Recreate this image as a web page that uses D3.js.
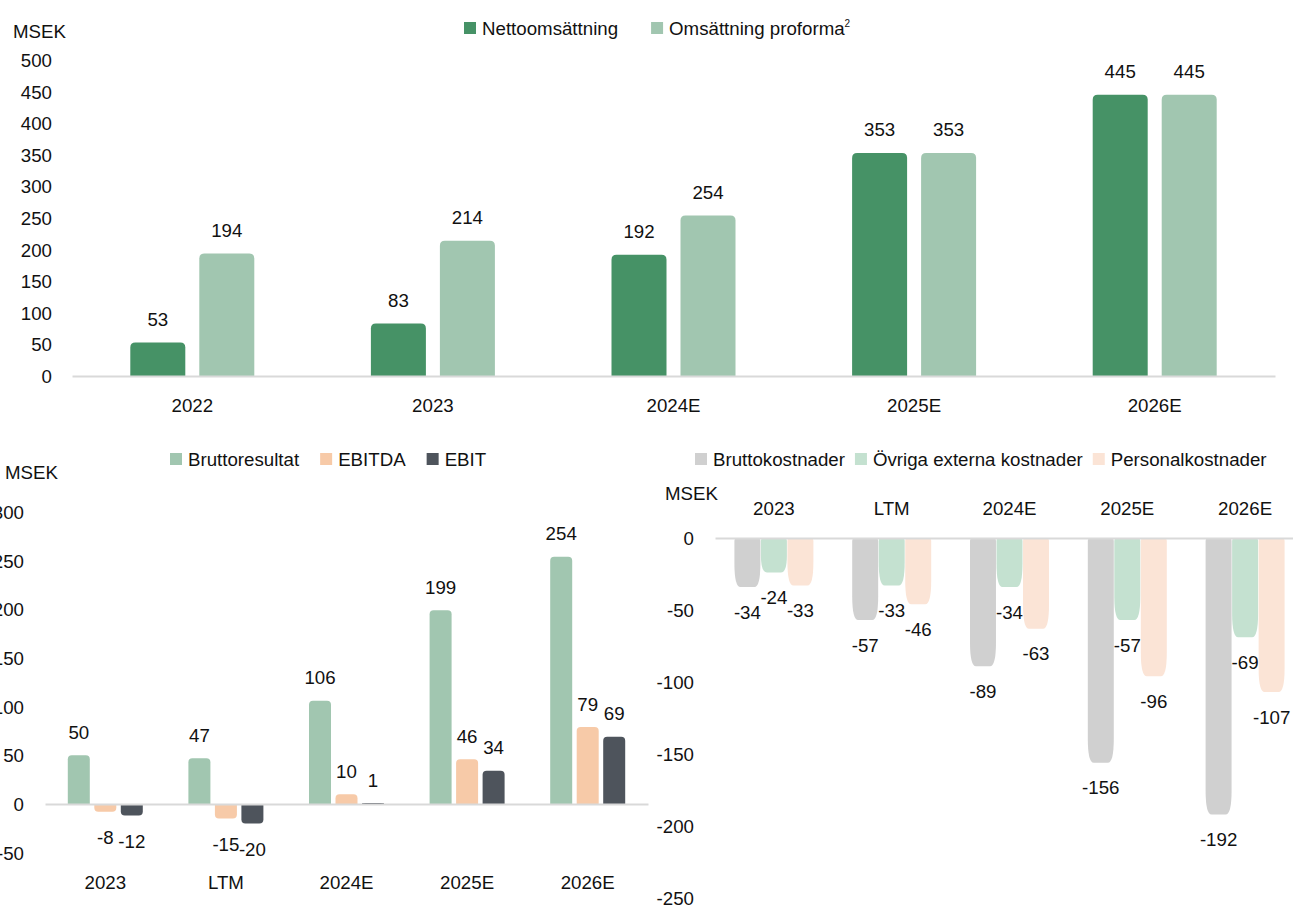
<!DOCTYPE html>
<html>
<head>
<meta charset="utf-8">
<script src="https://cdn.jsdelivr.net/npm/d3@7"></script>
<style>
  body { margin: 0; background: #fff; }
  svg text { font-family: "Liberation Sans", Arial, sans-serif; font-size: 18.7px; fill: #111; }
</style>
</head>
<body>
<div id="chart-area"></div>
<script>
// Values (MSEK)

// Top chart: revenue
var topCategories = ['2022', '2023', '2024E', '2025E', '2026E'];
var nettoomsattning = [53, 83, 192, 353, 445];
var omsattningProforma = [194, 214, 254, 353, 445];
var topTicks = [0, 50, 100, 150, 200, 250, 300, 350, 400, 450, 500];

// Bottom left: results
var resultCategories = ['2023', 'LTM', '2024E', '2025E', '2026E'];
var bruttoresultat = [50, 47, 106, 199, 254];
var ebitda = [-8, -15, 10, 46, 79];
var ebit = [-12, -20, 1, 34, 69];
var resultTicks = [-50, 0, 50, 100, 150, 200, 250, 300];

// Bottom right: costs
var costCategories = ['2023', 'LTM', '2024E', '2025E', '2026E'];
var bruttokostnader = [-34, -57, -89, -156, -192];
var ovrigaExterna = [-24, -33, -34, -57, -69];
var personalkostnader = [-33, -46, -63, -96, -107];
var costTicks = [-250, -200, -150, -100, -50, 0];


var width = 1293, height = 906;

var svg = d3.select("#chart-area")
    .append("svg")
        .attr("width", width)
        .attr("height", height);

// plain hyphen for negatives, like the source
var fmt = function(d) { return String(d); };

// bar outline with rounded corners, far end (rx, ry) and base end (rb)
function barPath(x, w, y0, y1, rx, ry, rb) {
    var h = Math.abs(y1 - y0);
    var dir = y1 < y0 ? -1 : 1;
    rx = Math.min(rx, w / 2);
    ry = Math.min(ry, h / 2);
    rb = Math.min(rb, w / 2, h / 2);
    var p = d3.path();
    p.moveTo(x + rb, y0);
    p.lineTo(x + w - rb, y0);
    p.quadraticCurveTo(x + w, y0, x + w, y0 + dir * rb);
    p.lineTo(x + w, y1 - dir * ry);
    p.quadraticCurveTo(x + w, y1, x + w - rx, y1);
    p.lineTo(x + rx, y1);
    p.quadraticCurveTo(x, y1, x, y1 - dir * ry);
    p.lineTo(x, y0 + dir * rb);
    p.quadraticCurveTo(x, y0, x + rb, y0);
    p.closePath();
    return p.toString();
}

function drawLegend(items, startX, y, gap) {
    var cx = startX;
    items.forEach(function(it) {
        svg.append("rect")
            .attr("x", cx).attr("y", y - 6)
            .attr("width", 12).attr("height", 12)
            .attr("fill", it.color);
        var t = svg.append("text")
            .attr("x", cx + 18).attr("y", y)
            .attr("dy", "0.35em")
            .text(it.label);
        var w = t.node().getComputedTextLength();
        if (it.sup) {
            t.append("tspan")
                .attr("dy", "-0.75em")
                .style("font-size", "10px")
                .text(it.sup);
            w += 7;
        }
        cx += 18 + w + gap;
    });
}

function drawChart(cfg) {
    var g = svg.append("g");

    var x = d3.scaleBand()
        .domain(cfg.categories)
        .range(cfg.xRange);

    var y = d3.scaleLinear()
        .domain(cfg.yDomain)
        .range(cfg.yRange);

    var inner = d3.scaleBand()
        .domain(d3.range(cfg.series.length))
        .range([0, cfg.groupWidth])
        .paddingInner(cfg.innerPad);

    // Y axis labels only
    g.append("g")
        .attr("transform", "translate(" + cfg.yAxisX + ",0)")
        .call(d3.axisLeft(y).tickValues(cfg.ticks).tickFormat(fmt).tickSize(0).tickPadding(0))
        .call(function(a) { a.select(".domain").remove(); })
        .selectAll("text")
            .attr("dy", "0.35em");

    // Bars + value labels
    cfg.series.forEach(function(s, si) {
        var barX = function(i) {
            return x(cfg.categories[i]) + x.bandwidth() / 2 - cfg.groupWidth / 2 + inner(si);
        };
        g.selectAll(null)
            .data(s.values)
            .enter()
            .append("path")
                .attr("d", function(v, i) {
                    return barPath(barX(i), inner.bandwidth(), y(0), y(v), cfg.rx, cfg.ry, cfg.rb);
                })
                .attr("fill", s.color);

        g.selectAll(null)
            .data(s.values)
            .enter()
            .append("text")
                .attr("x", function(v, i) { return barX(i) + inner.bandwidth() / 2; })
                .attr("y", function(v) {
                    return v >= 0 ? y(v) - cfg.labelAbove : y(v) + cfg.labelBelow;
                })
                .attr("dy", "0.35em")
                .attr("text-anchor", "middle")
                .text(fmt);
    });

    // Zero line
    g.append("g")
        .attr("transform", "translate(0," + y(0) + ")")
        .call(d3.axisBottom(x).tickSize(0).tickSizeOuter(0).tickFormat(""))
        .select(".domain")
            .attr("stroke", "#d9d9d9")
            .attr("stroke-width", 2);

    // Category labels
    g.append("g")
        .attr("transform", "translate(0," + cfg.catLabelY + ")")
        .call(d3.axisBottom(x).tickSize(0).tickPadding(0))
        .call(function(a) { a.select(".domain").remove(); })
        .selectAll("text")
            .attr("dy", "0.35em");

    // Unit label
    g.append("text")
        .attr("x", cfg.unitPos[0])
        .attr("y", cfg.unitPos[1])
        .attr("dy", "0.35em")
        .text("MSEK");
}

// Top chart
drawChart({
    categories: topCategories,
    series: [
        { values: nettoomsattning, color: "#469266" },
        { values: omsattningProforma, color: "#a1c6b0" }
    ],
    ticks: topTicks,
    xRange: [72, 1275],
    yDomain: [0, 500],
    yRange: [376, 60],
    groupWidth: 124,
    innerPad: 14 / 69,
    yAxisX: 52,
    catLabelY: 405,
    unitPos: [13, 31],
    rx: 5, ry: 5, rb: 0,
    labelAbove: 23, labelBelow: 25
});
drawLegend([
    { label: "Nettoomsättning", color: "#469266" },
    { label: "Omsättning proforma", color: "#a1c6b0", sup: "2" }
], 464, 28, 33);

// Bottom left chart
drawChart({
    categories: resultCategories,
    series: [
        { values: bruttoresultat, color: "#a1c6b0" },
        { values: ebitda, color: "#f7caa8" },
        { values: ebit, color: "#4e545c" }
    ],
    ticks: resultTicks,
    xRange: [45, 648],
    yDomain: [-50, 300],
    yRange: [852.6, 512],
    groupWidth: 75,
    innerPad: 4.5 / 26.5,
    yAxisX: 24,
    catLabelY: 882,
    unitPos: [5, 472],
    rx: 4, ry: 4, rb: 0,
    labelAbove: 23, labelBelow: 26
});
drawLegend([
    { label: "Bruttoresultat", color: "#a1c6b0" },
    { label: "EBITDA", color: "#f7caa8" },
    { label: "EBIT", color: "#4e545c" }
], 170, 459, 21);

// Bottom right chart
drawChart({
    categories: costCategories,
    series: [
        { values: bruttokostnader, color: "#d0d0d0" },
        { values: ovrigaExterna, color: "#c4e1d0" },
        { values: personalkostnader, color: "#fbe4d6" }
    ],
    ticks: costTicks,
    xRange: [715, 1304],
    yDomain: [-250, 0],
    yRange: [898, 538],
    groupWidth: 79,
    innerPad: 0.02,
    yAxisX: 694,
    catLabelY: 508,
    unitPos: [665, 493],
    rx: 6, ry: 24, rb: 3,
    labelAbove: 23, labelBelow: 25
});
drawLegend([
    { label: "Bruttokostnader", color: "#d0d0d0" },
    { label: "Övriga externa kostnader", color: "#c4e1d0" },
    { label: "Personalkostnader", color: "#fbe4d6" }
], 695, 459, 10);
</script>
</body>
</html>
